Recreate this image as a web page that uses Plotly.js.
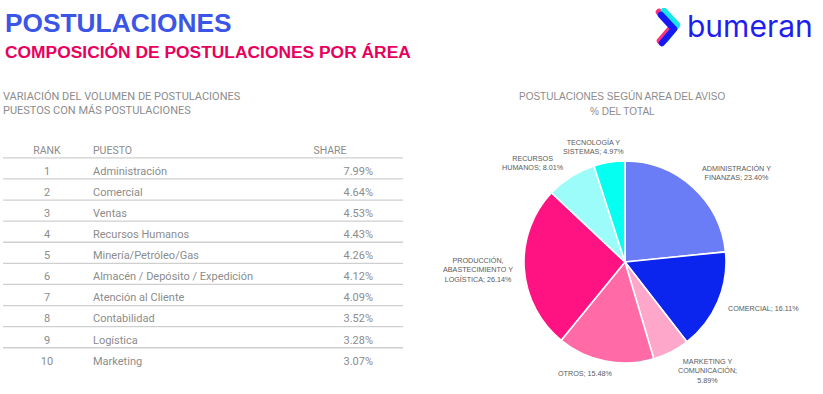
<!DOCTYPE html>
<html>
<head>
<meta charset="utf-8">
<script src="https://cdn.plot.ly/plotly-3.0.1.min.js"></script>
<style>
html,body{margin:0;padding:0;background:#fff;}
#chart{width:823px;height:394px;}
</style>
</head>
<body>
<div id="chart"></div>
<script>
// ---- Data: ranking table ----
var ranks = [1, 2, 3, 4, 5, 6, 7, 8, 9, 10];
var puestos = ["Administración", "Comercial", "Ventas", "Recursos Humanos", "Minería/Petróleo/Gas",
  "Almacén / Depósito / Expedición", "Atención al Cliente", "Contabilidad", "Logística", "Marketing"];
var shares = [7.99, 4.64, 4.53, 4.43, 4.26, 4.12, 4.09, 3.52, 3.28, 3.07];
var tableHeaders = ["RANK", "PUESTO", "SHARE"];

// ---- Data: pie ----
var areas = ["ADMINISTRACIÓN Y FINANZAS", "COMERCIAL", "MARKETING Y COMUNICACIÓN", "OTROS",
  "PRODUCCIÓN, ABASTECIMIENTO Y LOGÍSTICA", "RECURSOS HUMANOS", "TECNOLOGÍA Y SISTEMAS"];
var areaShares = [23.40, 16.11, 5.89, 15.48, 26.14, 8.01, 4.97];

// ---- Styles / layout constants ----
var areaColors = ["#6A7CF6", "#0B25EE", "#FFA6CB", "#FF6AA7", "#FF1282", "#9BFCFA", "#05FFF1"];
var labelPos = [[736,173],[763,308],[707,371],[585,373],[478,270],[533,163],[593,147]];
var labelWrap = [16, 17, 13, 14, 17, 14, 15];
var W = 823, H = 394;
var rowTop = 150.9, rowStep = 21.1;
var colRank = 47, colPuesto = 93, colShareHead = 330, colShare = 373;
var lineX0 = 3, lineX1 = 403;
var tableFont = "Roboto, 'Liberation Sans', sans-serif";
var gray = "#8c8c8c";

function wrap(text, width) {
  var words = text.split(" "), lines = [], cur = "";
  words.forEach(function (w) {
    if (cur === "") cur = w;
    else if ((cur + " " + w).length <= width) cur += " " + w;
    else { lines.push(cur); cur = w; }
  });
  if (cur) lines.push(cur);
  return lines.join("<br>");
}

var traces = [];

// Header row
traces.push({
  type: "scatter", mode: "text", x: [colRank], y: [0], text: [tableHeaders[0]],
  textposition: "middle center", textfont: {family: tableFont, size: 10.5, color: gray},
  hoverinfo: "skip", showlegend: false
});
traces.push({
  type: "scatter", mode: "text", x: [colPuesto], y: [0], text: [tableHeaders[1]],
  textposition: "middle right", textfont: {family: tableFont, size: 10.5, color: gray},
  hoverinfo: "skip", showlegend: false
});
traces.push({
  type: "scatter", mode: "text", x: [colShareHead], y: [0], text: [tableHeaders[2]],
  textposition: "middle center", textfont: {family: tableFont, size: 10.5, color: gray},
  hoverinfo: "skip", showlegend: false
});

// Rule lines (under header and each row except last)
var lx = [], ly = [];
[0].concat(ranks.slice(0, ranks.length - 1)).forEach(function (r) {
  lx.push(lineX0, lineX1, null);
  ly.push(r + 0.33, r + 0.33, null);
});
traces.push({
  type: "scatter", mode: "lines", x: lx, y: ly,
  line: {color: "#cfcfcf", width: 1.3}, hoverinfo: "skip", showlegend: false
});

// Rows
traces.push({
  type: "scatter", mode: "text", x: ranks.map(function(){return colRank;}), y: ranks,
  text: ranks.map(String), textposition: "middle center",
  textfont: {family: tableFont, size: 11, color: gray}, hoverinfo: "skip", showlegend: false
});
traces.push({
  type: "scatter", mode: "text", x: ranks.map(function(){return colPuesto;}), y: ranks,
  text: puestos, textposition: "middle right",
  textfont: {family: tableFont, size: 11, color: gray}, hoverinfo: "skip", showlegend: false
});
traces.push({
  type: "scatter", mode: "text", x: ranks.map(function(){return colShare;}), y: ranks,
  text: shares.map(function (v) { return v.toFixed(2) + "%"; }), textposition: "middle left",
  textfont: {family: tableFont, size: 11, color: gray}, hoverinfo: "skip", showlegend: false
});

// Pie
var cx = 625, cy = 262, R = 101;
traces.push({
  type: "pie", labels: areas, values: areaShares, sort: false, direction: "clockwise",
  rotation: 0, textinfo: "none", hoverinfo: "label+percent",
  marker: {colors: areaColors, line: {color: "#ffffff", width: 1.6}},
  domain: {x: [(cx - R) / W, (cx + R) / W], y: [1 - (cy + R) / H, 1 - (cy - R) / H]},
  showlegend: false
});

var annotations = [];
areas.forEach(function (a, i) {
  annotations.push({
    xref: "paper", yref: "paper", x: labelPos[i][0] / W, y: 1 - labelPos[i][1] / H,
    xanchor: "center", yanchor: "middle", showarrow: false, align: "center",
    text: wrap(a + "; " + areaShares[i].toFixed(2) + "%", labelWrap[i]),
    font: {family: "'Liberation Sans', Arial, sans-serif", size: 7.2, color: "#5a5a5a"}
  });
});

function txt(x, y, text, size, color, family, anchor, weight) {
  return {xref: "paper", yref: "paper", x: x / W, y: 1 - y / H, xanchor: anchor || "left",
    yanchor: "middle", showarrow: false, text: text,
    font: {family: family, size: size, color: color, weight: weight || 400}};
}
var titleFont = "'Liberation Sans', Arial, sans-serif";
annotations.push(txt(3, 23, "POSTULACIONES", 26.3, "#3B55E6", titleFont, "left", 700));
annotations.push(txt(3, 52.5, "COMPOSICIÓN DE POSTULACIONES POR ÁREA", 17.4, "#E8005E", titleFont, "left", 700));
annotations.push(txt(1, 96, "VARIACIÓN DEL VOLUMEN DE POSTULACIONES", 11, gray, tableFont, "left"));
annotations.push(txt(1, 110, "PUESTOS CON MÁS POSTULACIONES", 11, gray, tableFont, "left"));
annotations.push(txt(622, 96, "POSTULACIONES SEGÚN AREA DEL AVISO", 10, gray, titleFont, "center"));
annotations.push(txt(622, 111, "% DEL TOTAL", 10, gray, titleFont, "center"));
annotations.push(txt(685, 26, "bumeran", 30, "#1E1EF2", "Inter, 'Noto Sans', sans-serif", "left", 400));

var logoSvg = '<svg xmlns="http://www.w3.org/2000/svg" width="30" height="40" viewBox="0 0 30 40">' +
  '<polyline points="4,4 18,18 5,33" fill="none" stroke="#FF2E7E" stroke-width="6.5" stroke-linecap="round" stroke-linejoin="round"/>' +
  '<polyline points="9,3 22,17 10,32" fill="none" stroke="#16E6E6" stroke-width="6.5" stroke-linecap="round" stroke-linejoin="round"/>' +
  '<polyline points="6,7 19,21 7,35" fill="none" stroke="#1818F0" stroke-width="6.5" stroke-linecap="round" stroke-linejoin="round"/>' +
  '</svg>';

var layout = {
  width: W, height: H, margin: {l: 0, r: 0, t: 0, b: 0},
  paper_bgcolor: "#ffffff", plot_bgcolor: "#ffffff", showlegend: false,
  xaxis: {range: [0, W], domain: [0, 1], visible: false, fixedrange: true},
  yaxis: {range: [(H - rowTop) / rowStep, -rowTop / rowStep], domain: [0, 1], visible: false, fixedrange: true},
  annotations: annotations,
  images: [{
    source: "data:image/svg+xml;charset=utf-8," + encodeURIComponent(logoSvg),
    xref: "paper", yref: "paper", x: 655 / W, y: 1 - 8 / H, sizex: 30 / W, sizey: 40 / H,
    xanchor: "left", yanchor: "top", sizing: "contain", layer: "above"
  }]
};

Plotly.newPlot("chart", traces, layout, {displayModeBar: false, staticPlot: true});
</script>
</body>
</html>
